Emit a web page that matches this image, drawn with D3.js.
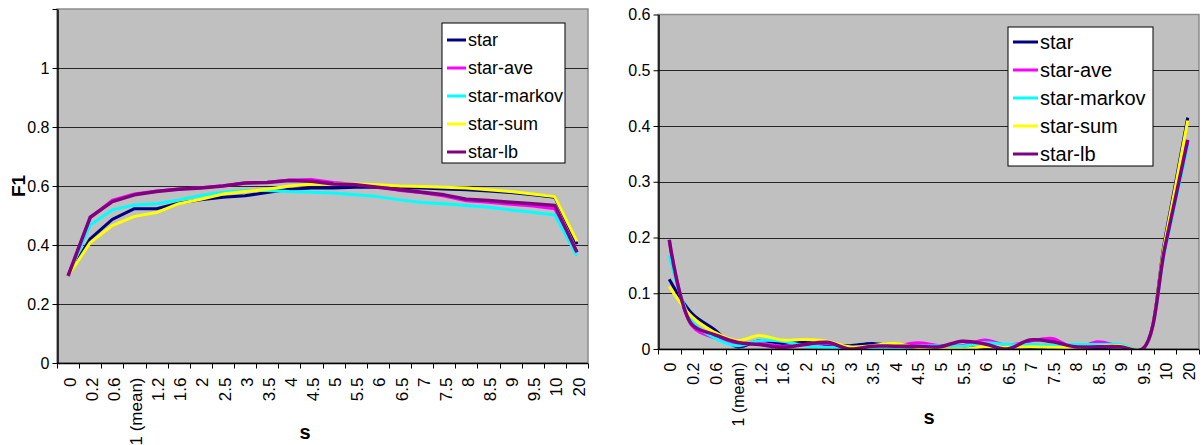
<!DOCTYPE html>
<html>
<head>
<meta charset="utf-8">
<script src="https://cdn.jsdelivr.net/npm/d3@7"></script>
<style>
  body { margin: 0; background: #fff; }
  svg { display: block; font-family: "Liberation Sans", Arial, sans-serif; }
</style>
</head>
<body>
<div id="chart"></div>
<script>
// categories of s
const categories = ["0", "0.2", "0.6", "1 (mean)", "1.2", "1.6", "2", "2.5", "3", "3.5", "4", "4.5",
    "5", "5.5", "6", "6.5", "7", "7.5", "8", "8.5", "9", "9.5", "10", "20"];

const seriesNames = ["star", "star-ave", "star-markov", "star-sum", "star-lb"];
const seriesColors = ["#000080", "#ff00ff", "#00ffff", "#ffff00", "#800080"];

// left panel: F1
const f1Star   = [0.295, 0.421, 0.487, 0.523, 0.523, 0.542, 0.553, 0.562, 0.567, 0.578, 0.589, 0.593, 0.593, 0.596, 0.596, 0.593, 0.593, 0.590, 0.587, 0.583, 0.578, 0.570, 0.562, 0.403];
const f1Ave    = [0.295, 0.492, 0.552, 0.573, 0.583, 0.590, 0.594, 0.601, 0.610, 0.613, 0.620, 0.622, 0.612, 0.605, 0.598, 0.585, 0.577, 0.566, 0.550, 0.545, 0.538, 0.532, 0.523, 0.378];
const f1Markov = [0.295, 0.468, 0.519, 0.536, 0.540, 0.553, 0.568, 0.579, 0.585, 0.585, 0.581, 0.579, 0.576, 0.570, 0.564, 0.553, 0.544, 0.540, 0.534, 0.528, 0.519, 0.511, 0.502, 0.363];
const f1Sum    = [0.295, 0.408, 0.466, 0.497, 0.510, 0.540, 0.555, 0.573, 0.581, 0.589, 0.600, 0.606, 0.607, 0.607, 0.604, 0.600, 0.598, 0.596, 0.593, 0.587, 0.581, 0.573, 0.564, 0.412];
const f1Lb     = [0.295, 0.494, 0.547, 0.570, 0.581, 0.589, 0.593, 0.600, 0.610, 0.612, 0.619, 0.616, 0.607, 0.604, 0.596, 0.587, 0.579, 0.570, 0.555, 0.551, 0.545, 0.540, 0.534, 0.375];

// right panel
const rStar   = [0.125, 0.064, 0.035, 0.004, 0.015, 0.010, 0.012, 0.008, 0.006, 0.010, 0.005, 0.004, 0.003, 0.002, 0.002, 0.001, 0.000, 0.002, 0.002, 0.002, 0.004, 0.000, 0.200, 0.415];
const rAve    = [0.195, 0.042, 0.020, 0.010, 0.010, 0.005, 0.008, 0.010, 0.002, 0.004, 0.005, 0.011, 0.006, 0.006, 0.016, 0.007, 0.014, 0.019, 0.001, 0.013, 0.005, 0.000, 0.185, 0.372];
const rMarkov = [0.168, 0.050, 0.020, 0.006, 0.015, 0.014, 0.006, 0.003, 0.001, 0.002, 0.002, 0.005, 0.006, 0.005, 0.011, 0.008, 0.008, 0.007, 0.008, 0.008, 0.008, 0.000, 0.180, 0.365];
const rSum    = [0.112, 0.058, 0.030, 0.015, 0.024, 0.016, 0.017, 0.014, 0.004, 0.006, 0.010, 0.003, 0.001, 0.000, 0.004, 0.003, 0.004, 0.003, 0.003, 0.005, 0.006, 0.000, 0.195, 0.410];
const rLb     = [0.196, 0.044, 0.026, 0.012, 0.008, 0.003, 0.008, 0.012, 0.000, 0.005, 0.005, 0.005, 0.004, 0.014, 0.009, 0.000, 0.016, 0.013, 0.004, 0.004, 0.004, 0.000, 0.185, 0.375];

const leftTicks = [0, 0.2, 0.4, 0.6, 0.8, 1];
const rightTicks = [0, 0.1, 0.2, 0.3, 0.4, 0.5, 0.6];

var svg = d3.select("#chart").append("svg")
    .attr("width", 1204)
    .attr("height", 445);

function drawPanel(opt) {
    var g = svg.append("g");
    var x = d3.scaleBand().domain(categories).range([opt.x0, opt.x1]);
    var y = d3.scaleLinear().domain([0, opt.ymax]).range([opt.y1, opt.y0]);

    g.append("rect")
        .attr("x", opt.x0).attr("y", opt.y0)
        .attr("width", opt.x1 - opt.x0).attr("height", opt.y1 - opt.y0)
        .attr("fill", "#c0c0c0")
        .attr("stroke", "#8c8c8c")
        .attr("stroke-width", 1.5);

    // gridlines
    g.selectAll(".grid")
        .data(opt.ticks.filter(function(d) { return d > 0 && d < opt.ymax }))
        .enter().append("line")
        .attr("x1", opt.x0).attr("x2", opt.x1)
        .attr("y1", function(d) { return Math.round(y(d)) + 0.5 })
        .attr("y2", function(d) { return Math.round(y(d)) + 0.5 })
        .attr("stroke", "#262626")
        .attr("stroke-width", 1);

    var clipId = "clip" + opt.x0;
    svg.append("clipPath").attr("id", clipId)
        .append("rect")
        .attr("x", opt.x0).attr("y", opt.y0)
        .attr("width", opt.x1 - opt.x0).attr("height", opt.y1 - opt.y0);

    var line = d3.line()
        .x(function(d, i) { return x(categories[i]) + x.bandwidth() / 2 })
        .y(function(d) { return y(d) })
        .curve(opt.curve);

    opt.series.forEach(function(vals, k) {
        g.append("path")
            .datum(vals)
            .attr("clip-path", "url(#" + clipId + ")")
            .attr("fill", "none")
            .attr("stroke", seriesColors[k])
            .attr("stroke-width", k === 4 ? 3.5 : 3)
            .attr("stroke-linejoin", "round")
            .attr("d", line);
    });

    // y axis
    var yAxis = d3.axisLeft(y)
        .tickValues(opt.axisTicks)
        .tickSize(5)
        .tickSizeOuter(0)
        .tickFormat(function(d) { return opt.ticks.indexOf(d) >= 0 ? d3.format("")(+d.toFixed(1)) : "" });
    var ya = g.append("g")
        .attr("transform", "translate(" + (opt.x0 + 0.5) + ",0)")
        .call(yAxis);
    ya.select(".domain").attr("stroke", "#000").attr("stroke-width", 1.5);
    ya.selectAll("line").attr("stroke", "#000");
    ya.selectAll("text")
        .attr("x", -8)
        .attr("fill", "#000")
        .style("font-size", opt.tickFont + "px")
        .style("font-family", "Liberation Sans, Arial, sans-serif");

    // x axis
    var xa = g.append("g").attr("transform", "translate(0," + (opt.y1 + 0.5) + ")");
    xa.append("line")
        .attr("x1", opt.x0).attr("x2", opt.x1)
        .attr("stroke", "#000").attr("stroke-width", 1.5);
    var bounds = categories.map(function(c) { return x(c) }).concat([opt.x1]);
    xa.selectAll(".xtick")
        .data(bounds)
        .enter().append("line")
        .attr("x1", function(d) { return Math.round(d) + 0.5 })
        .attr("x2", function(d) { return Math.round(d) + 0.5 })
        .attr("y1", 0).attr("y2", 5)
        .attr("stroke", "#000");
    xa.selectAll(".xlabel")
        .data(categories)
        .enter().append("text")
        .attr("transform", function(d) { return "translate(" + (x(d) + x.bandwidth() / 2) + "," + opt.xLabelGap + ") rotate(-90)" })
        .attr("dy", "0.45em")
        .style("text-anchor", "end")
        .style("font-size", opt.xTickFont + "px")
        .text(function(d) { return d });

    // axis titles
    svg.append("text")
        .attr("x", opt.sx).attr("y", opt.sy)
        .style("text-anchor", "middle")
        .style("font-weight", "bold")
        .style("font-size", "20px")
        .text("s");

    // legend
    var lg = svg.append("g").attr("transform", "translate(" + opt.legend.x + "," + opt.legend.y + ")");
    lg.append("rect")
        .attr("width", opt.legend.w).attr("height", opt.legend.h)
        .attr("fill", "#fff").attr("stroke", "#000");
    var items = lg.selectAll(".item")
        .data(seriesNames)
        .enter().append("g")
        .attr("transform", function(d, i) { return "translate(0," + (opt.legend.first + i * opt.legend.step) + ")" });
    items.append("line")
        .attr("x1", 5).attr("x2", opt.legend.lineLen)
        .attr("stroke", function(d, i) { return seriesColors[i] })
        .attr("stroke-width", 3);
    items.append("text")
        .attr("x", opt.legend.lineLen + 2)
        .attr("dy", "0.36em")
        .style("font-size", opt.legend.font + "px")
        .text(function(d) { return d });
}

drawPanel({
    x0: 57, x1: 588, y0: 9, y1: 363, ymax: 1.2,
    ticks: leftTicks, axisTicks: leftTicks.concat([1.2]),
    series: [f1Star, f1Ave, f1Markov, f1Sum, f1Lb],
    curve: d3.curveLinear,
    tickFont: 16, xTickFont: 17, xLabelGap: 14,
    sx: 305, sy: 439,
    legend: {x: 442, y: 23, w: 123, h: 140, first: 17, step: 28, lineLen: 24, font: 18}
});

drawPanel({
    x0: 658, x1: 1199, y0: 14.5, y1: 349, ymax: 0.6,
    ticks: rightTicks, axisTicks: rightTicks,
    series: [rStar, rAve, rMarkov, rSum, rLb],
    curve: d3.curveCatmullRom,
    tickFont: 16, xTickFont: 16, xLabelGap: 13,
    sx: 929, sy: 424,
    legend: {x: 1008, y: 27, w: 145, h: 139, first: 15, step: 28, lineLen: 30, font: 20}
});

// y title left panel
svg.append("text")
    .attr("transform", "translate(25,186) rotate(-90)")
    .style("text-anchor", "middle")
    .style("font-weight", "bold")
    .style("font-size", "19px")
    .text("F1");
</script>
</body>
</html>
